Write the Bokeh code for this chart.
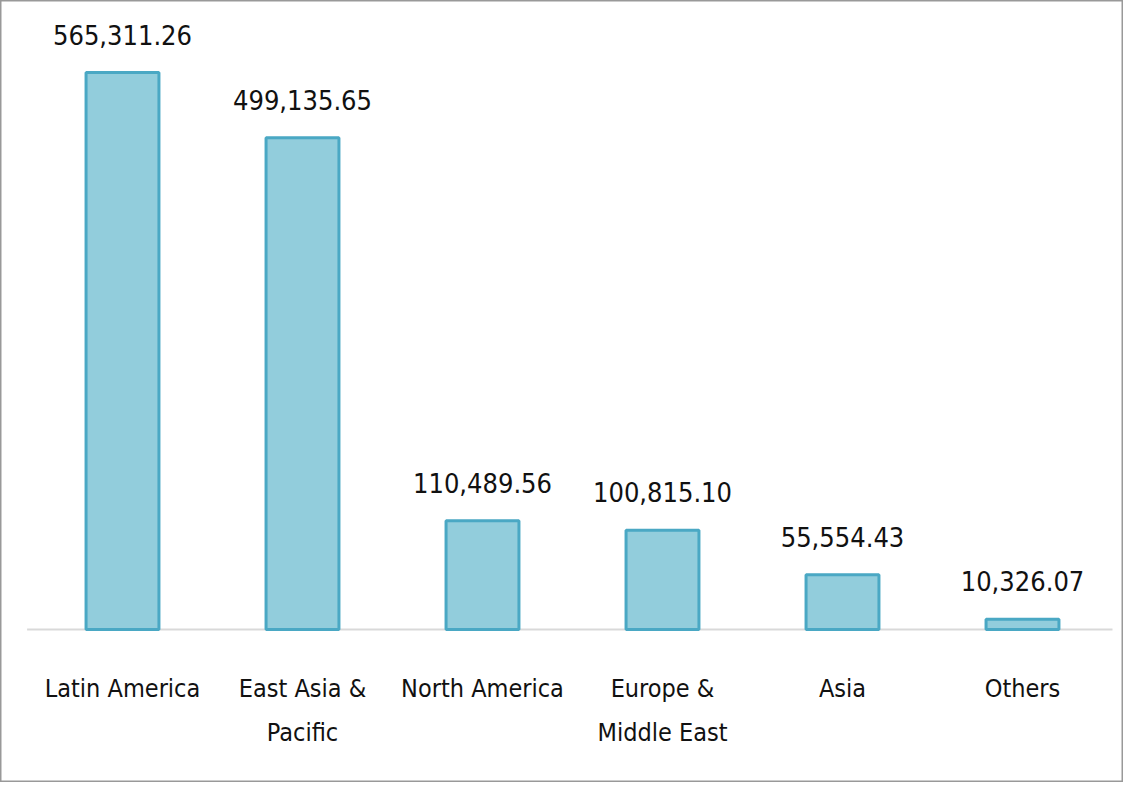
from bokeh.plotting import figure
from bokeh.models import ColumnDataSource, Range1d
from bokeh.core.properties import value
from bokeh.embed import file_html
from bokeh.resources import INLINE

categories = ["Latin America", "East Asia &\nPacific", "North America",
              "Europe &\nMiddle East", "Asia", "Others"]
values = [565311.26, 499135.65, 110489.56, 100815.10, 55554.43, 10326.07]
value_labels = ["565,311.26", "499,135.65", "110,489.56", "100,815.10", "55,554.43", "10,326.07"]

W, H = 1123, 782
xs = list(range(len(categories)))
src = ColumnDataSource(dict(x=xs, top=values, lab=value_labels, cat=categories,
                            zero=[0] * len(xs)))

px_per_unit_y = 557 / max(values)
y_start = -153 / px_per_unit_y
y_end = 629 / px_per_unit_y

p = figure(width=W, height=H, output_backend="svg", toolbar_location=None,
           x_range=Range1d(-122 / 180, (W - 122) / 180),
           y_range=Range1d(y_start, y_end),
           min_border=0, min_border_left=0, min_border_right=0,
           min_border_top=0, min_border_bottom=0)
p.axis.visible = False
p.xgrid.visible = False
p.ygrid.visible = False
p.outline_line_color = "#999999"
p.outline_line_width = 2
p.background_fill_color = "white"
p.border_fill_color = "white"

# baseline
p.segment(x0=[-0.53], x1=[len(xs) - 0.5], y0=[0], y1=[0],
          line_color="#d9d9d9", line_width=2)

p.vbar(x="x", top="top", bottom=0, width=0.405, source=src,
       fill_color="#92cddc", line_color="#4aa8c4", line_width=3)

font = value("'DejaVu Sans Condensed', 'Liberation Sans'")
p.text(x="x", y="top", text="lab", source=src, text_font=font,
       text_font_size="27px", text_align="center", text_baseline="alphabetic",
       y_offset=-38, text_color="#111111")

p.text(x="x", y="zero", text="cat", source=src, text_font=font,
       text_font_size="25px", text_align="center", text_baseline="top",
       y_offset=44, text_line_height=1.55, text_color="#111111")

open("out.html", "w").write(file_html(p, INLINE))
